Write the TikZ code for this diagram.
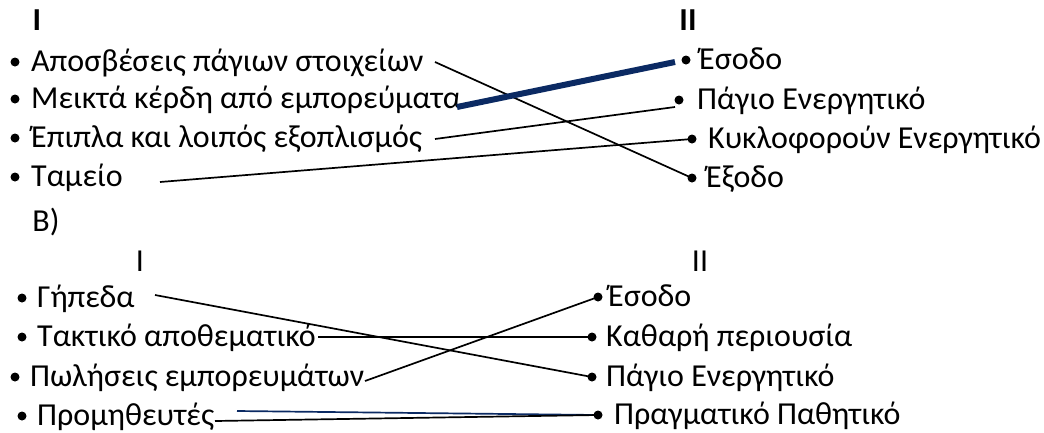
\documentclass[tikz,border=0pt]{standalone}
\usepackage{fontspec}
\setmainfont{Carlito}
\definecolor{navyline}{HTML}{0B2A63}
\begin{document}
\begin{tikzpicture}[x=1pt, y=-1pt,
    dot/.style={circle, fill=black, inner sep=0pt, minimum size=9pt},
    item/.style={anchor=base west, inner sep=0pt, font=\fontsize{32}{38}\selectfont},
    head/.style={anchor=base, inner sep=0pt, font=\fontsize{32}{38}\selectfont},
    link/.style={line width=1.7pt},
    thick link/.style={line width=6pt, color=navyline}]
        \useasboundingbox (0,0) rectangle (1044,432);

        % A) titles
        \node[head, font=\fontsize{32}{38}\selectfont\bfseries] (ha) at (37,30) {I};
        \node[head, font=\fontsize{32}{38}\selectfont\bfseries] (hb) at (688,30) {II};

        % A) left column
        \node[dot] (la1) at (15,62) {};
        \node[dot] (la2) at (15,99) {};
        \node[dot] (la3) at (15,138) {};
        \node[dot] (la4) at (15,177) {};
        \node[item] (ta1) at (31,71) {Αποσβέσεις πάγιων στοιχείων};
        \node[item] (ta2) at (31,108) {Μεικτά κέρδη από εμπορεύματα};
        \node[item] (ta3) at (31,147) {Έπιπλα και λοιπός εξοπλισμός};
        \node[item] (ta4) at (31,186) {Ταμείο};

        % A) right column
        \node[dot] (ra1) at (686,60) {};
        \node[dot] (ra2) at (679,100) {};
        \node[dot] (ra3) at (692,139) {};
        \node[dot] (ra4) at (692,178) {};
        \node[item] (sa1) at (699,69) {Έσοδο};
        \node[item] (sa2) at (697,109) {Πάγιο Ενεργητικό};
        \node[item] (sa3) at (708,148) {Κυκλοφορούν Ενεργητικό};
        \node[item] (sa4) at (706,187) {Έξοδο};

        % A) start points of the lines
        \coordinate (ca1) at (435,62);
        \coordinate (ca2) at (457,107);
        \coordinate (ca3) at (435,139);
        \coordinate (ca4) at (160,182);
        \coordinate (ea2) at (675,62);
        \coordinate (ea3) at (675,107);

        \draw[link] (ca1) -- (ra4.center);
        \draw[thick link] (ca2) -- (ea2);
        \draw[link] (ca3) -- (ea3);
        \draw[link] (ca4) -- (ra3.center);

        % B) titles
        \node[head] (hc) at (46,231) {B)};
        \node[head] (hd) at (140,271) {I};
        \node[head] (he) at (700,271) {II};

        % B) left column
        \node[dot] (lb1) at (22,298) {};
        \node[dot] (lb2) at (22,337) {};
        \node[dot] (lb3) at (15,377) {};
        \node[dot] (lb4) at (22,416) {};
        \node[item] (tb1) at (37,307) {Γήπεδα};
        \node[item] (tb2) at (37,346) {Τακτικό αποθεματικό};
        \node[item] (tb3) at (30,386) {Πωλήσεις εμπορευμάτων};
        \node[item] (tb4) at (37,425) {Προμηθευτές};

        % B) right column
        \node[dot] (rb1) at (598,297) {};
        \node[dot] (rb2) at (592,337) {};
        \node[dot] (rb3) at (592,377) {};
        \node[dot] (rb4) at (598,415) {};
        \node[item] (sb1) at (608,306) {Έσοδο};
        \node[item] (sb2) at (606,346) {Καθαρή περιουσία};
        \node[item] (sb3) at (606,386) {Πάγιο Ενεργητικό};
        \node[item] (sb4) at (614,424) {Πραγματικό Παθητικό};

        % B) start points of the lines
        \coordinate (cb1) at (155,295);
        \coordinate (cb2) at (318,337);
        \coordinate (cb3) at (365,381);
        \coordinate (cb4) at (237,411);
        \coordinate (cb5) at (215,421);

        \draw[link] (cb1) -- (rb3.center);
        \draw[link] (cb2) -- (rb2.center);
        \draw[link] (cb3) -- (rb1.center);
        \draw[link, color=navyline] (cb4) -- (rb4.center);
        \draw[link] (cb5) -- (rb4.center);
\end{tikzpicture}
\end{document}
